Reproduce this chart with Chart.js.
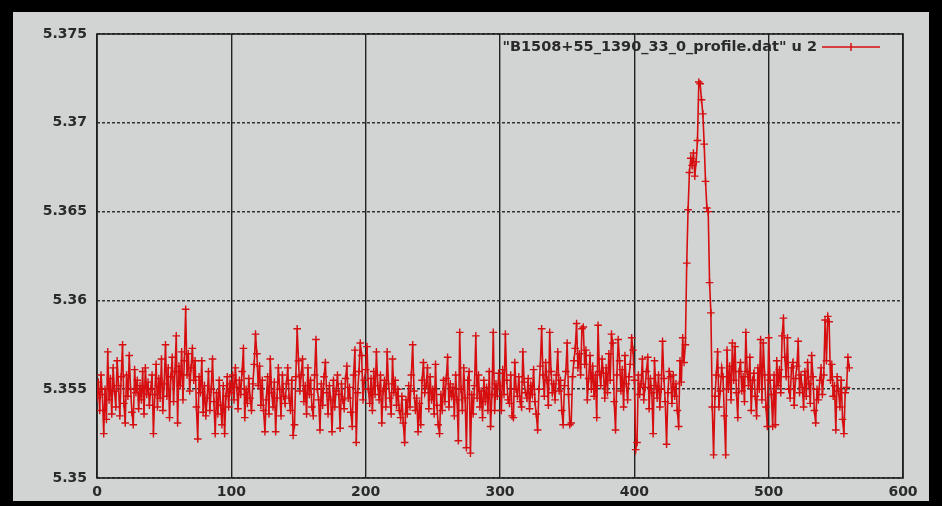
<!DOCTYPE html>
<html>
<head>
<meta charset="utf-8">
<script src="https://cdn.jsdelivr.net/npm/chart.js@4.4.1/dist/chart.umd.min.js"></script>
<style>
  html, body { margin: 0; padding: 0; background: #000; }
</style>
</head>
<body>
<canvas id="chart" width="942" height="506"></canvas>
<script>
const seriesLabel = '"B1508+55_1390_33_0_profile.dat" u 2'

// column 2 of the profile file, one value per bin (bin number = index)
const profile = [
  5.3545, 5.3554, 5.3538, 5.3558, 5.3547, 5.3525, 5.3550, 5.3533, 5.3571, 5.3544, 5.3556, 5.3536, 5.3562, 5.3549, 5.3540, 5.3566, 5.3552, 5.3535, 5.3557, 5.3575,
  5.3542, 5.3531, 5.3558, 5.3546, 5.3569, 5.3550, 5.3537, 5.3530, 5.3561, 5.3548, 5.3555, 5.3539, 5.3552, 5.3544, 5.3560, 5.3536, 5.3562, 5.3547, 5.3554, 5.3541,
  5.3550, 5.3558, 5.3525, 5.3547, 5.3564, 5.3540, 5.3556, 5.3545, 5.3567, 5.3538, 5.3553, 5.3575, 5.3546, 5.3562, 5.3534, 5.3557, 5.3568, 5.3543, 5.3560, 5.3580,
  5.3531, 5.3563, 5.3552, 5.3571, 5.3544, 5.3566, 5.3595, 5.3558, 5.3570, 5.3549, 5.3562, 5.3573, 5.3555, 5.3566, 5.3540, 5.3522, 5.3557, 5.3548, 5.3566, 5.3537,
  5.3552, 5.3535, 5.3545, 5.3560, 5.3538, 5.3550, 5.3567, 5.3543, 5.3525, 5.3548, 5.3536, 5.3555, 5.3541, 5.3530, 5.3552, 5.3525, 5.3546, 5.3557, 5.3540, 5.3553,
  5.3548, 5.3558, 5.3544, 5.3562, 5.3551, 5.3539, 5.3555, 5.3547, 5.3560, 5.3573, 5.3534, 5.3550, 5.3542, 5.3556, 5.3545, 5.3538, 5.3553, 5.3564, 5.3581, 5.3570,
  5.3552, 5.3563, 5.3541, 5.3555, 5.3538, 5.3526, 5.3544, 5.3557, 5.3536, 5.3567, 5.3548, 5.3540, 5.3554, 5.3526, 5.3545, 5.3562, 5.3550, 5.3535, 5.3558, 5.3546,
  5.3542, 5.3553, 5.3562, 5.3545, 5.3538, 5.3555, 5.3524, 5.3530, 5.3557, 5.3584, 5.3566, 5.3549, 5.3558, 5.3567, 5.3543, 5.3552, 5.3536, 5.3562, 5.3547, 5.3555,
  5.3540, 5.3535, 5.3558, 5.3578, 5.3550, 5.3544, 5.3527, 5.3553, 5.3541, 5.3557, 5.3565, 5.3548, 5.3536, 5.3552, 5.3544, 5.3526, 5.3555, 5.3540, 5.3549, 5.3558,
  5.3547, 5.3528, 5.3553, 5.3544, 5.3539, 5.3556, 5.3563, 5.3545, 5.3551, 5.3537, 5.3529, 5.3558, 5.3572, 5.3520, 5.3548, 5.3560, 5.3576, 5.3569, 5.3544, 5.3555,
  5.3561, 5.3574, 5.3550, 5.3542, 5.3556, 5.3538, 5.3560, 5.3547, 5.3571, 5.3552, 5.3544, 5.3558, 5.3531, 5.3549, 5.3555, 5.3540, 5.3571, 5.3553, 5.3545, 5.3536,
  5.3567, 5.3548, 5.3555, 5.3541, 5.3550, 5.3538, 5.3534, 5.3546, 5.3531, 5.3520, 5.3544, 5.3536, 5.3552, 5.3540, 5.3558, 5.3575, 5.3549, 5.3538, 5.3545, 5.3526,
  5.3542, 5.3530, 5.3555, 5.3565, 5.3548, 5.3552, 5.3562, 5.3539, 5.3557, 5.3544, 5.3550, 5.3536, 5.3564, 5.3541, 5.3530, 5.3525, 5.3547, 5.3538, 5.3555, 5.3543,
  5.3556, 5.3568, 5.3540, 5.3553, 5.3546, 5.3551, 5.3535, 5.3558, 5.3544, 5.3521, 5.3582, 5.3550, 5.3538, 5.3562, 5.3545, 5.3517, 5.3555, 5.3560, 5.3514, 5.3547,
  5.3536, 5.3552, 5.3580, 5.3545, 5.3558, 5.3540, 5.3549, 5.3534, 5.3555, 5.3543, 5.3551, 5.3538, 5.3560, 5.3529, 5.3547, 5.3582, 5.3538, 5.3553, 5.3546, 5.3559,
  5.3552, 5.3538, 5.3561, 5.3547, 5.3581, 5.3555, 5.3544, 5.3542, 5.3558, 5.3535, 5.3534, 5.3565, 5.3550, 5.3546, 5.3557, 5.3543, 5.3540, 5.3571, 5.3554, 5.3548,
  5.3545, 5.3556, 5.3539, 5.3552, 5.3547, 5.3561, 5.3543, 5.3536, 5.3527, 5.3550, 5.3563, 5.3584, 5.3558, 5.3546, 5.3565, 5.3555, 5.3541, 5.3582, 5.3560, 5.3548,
  5.3553, 5.3544, 5.3558, 5.3571, 5.3549, 5.3555, 5.3538, 5.3530, 5.3552, 5.3560, 5.3576, 5.3547, 5.3530, 5.3531, 5.3557, 5.3566, 5.3573, 5.3587, 5.3562, 5.3570,
  5.3558, 5.3584, 5.3585, 5.3564, 5.3572, 5.3544, 5.3556, 5.3569, 5.3550, 5.3563, 5.3546, 5.3558, 5.3534, 5.3586, 5.3560, 5.3552, 5.3567, 5.3559, 5.3545, 5.3562,
  5.3548, 5.3570, 5.3555, 5.3581, 5.3576, 5.3543, 5.3527, 5.3558, 5.3578, 5.3566, 5.3549, 5.3561, 5.3540, 5.3569, 5.3553, 5.3544, 5.3557, 5.3564, 5.3579, 5.3572,
  5.3555, 5.3516, 5.3520, 5.3558, 5.3547, 5.3553, 5.3567, 5.3544, 5.3551, 5.3560, 5.3568, 5.3539, 5.3556, 5.3548, 5.3525, 5.3566, 5.3552, 5.3545, 5.3558, 5.3540,
  5.3550, 5.3577, 5.3556, 5.3543, 5.3519, 5.3548, 5.3560, 5.3557, 5.3542, 5.3558, 5.3546, 5.3553, 5.3538, 5.3529, 5.3566, 5.3554, 5.3579, 5.3565, 5.3575, 5.3621,
  5.3651, 5.3672, 5.3680, 5.3676, 5.3683, 5.3670, 5.3678, 5.3690, 5.3723, 5.3722, 5.3713, 5.3705, 5.3688, 5.3667, 5.3652, 5.3650, 5.3610, 5.3593, 5.3540, 5.3513,
  5.3546, 5.3558, 5.3571, 5.3540, 5.3549, 5.3562, 5.3557, 5.3535, 5.3513, 5.3572, 5.3550, 5.3563, 5.3544, 5.3576, 5.3555, 5.3574, 5.3548, 5.3534, 5.3560, 5.3565,
  5.3549, 5.3557, 5.3543, 5.3582, 5.3560, 5.3552, 5.3568, 5.3538, 5.3555, 5.3559, 5.3546, 5.3535, 5.3562, 5.3550, 5.3578, 5.3544, 5.3576, 5.3558, 5.3540, 5.3529,
  5.3579, 5.3555, 5.3547, 5.3529, 5.3558, 5.3530, 5.3566, 5.3552, 5.3561, 5.3548, 5.3580, 5.3590, 5.3568, 5.3557, 5.3579, 5.3550, 5.3545, 5.3562, 5.3565, 5.3541,
  5.3556, 5.3563, 5.3577, 5.3548, 5.3558, 5.3551, 5.3540, 5.3560, 5.3546, 5.3565, 5.3553, 5.3542, 5.3569, 5.3557, 5.3538, 5.3531, 5.3550, 5.3544, 5.3555, 5.3562,
  5.3547, 5.3558, 5.3589, 5.3566, 5.3591, 5.3588, 5.3555, 5.3564, 5.3546, 5.3552, 5.3527, 5.3557, 5.3549, 5.3540, 5.3555, 5.3533, 5.3525, 5.3548, 5.3551, 5.3568, 5.3562
]

const xTicks = [0, 100, 200, 300, 400, 500, 600]
const yTicks = [5.35, 5.355, 5.36, 5.365, 5.37, 5.375]

const RED = 'rgb(214, 14, 16)'
const TEXT = '#2a2a2a'
const tickFont = { family: 'DejaVu Sans', size: 14, weight: 'bold' }

// black photo edge + grey gnuplot window
const backdrop = {
  id: 'backdrop',
  beforeDraw(chart) {
    const ctx = chart.ctx
    ctx.save()
    ctx.fillStyle = '#000'
    ctx.fillRect(0, 0, chart.width, chart.height)
    ctx.fillStyle = '#d2d4d4'
    ctx.fillRect(13, 12, 916, 489)
    ctx.restore()
  }
}

const frame = {
  id: 'frame',
  beforeDatasetsDraw(chart) {
    const { left, top, right, bottom } = chart.chartArea
    const ctx = chart.ctx
    ctx.save()
    ctx.strokeStyle = '#1e1e1e'
    ctx.lineWidth = 1.6
    ctx.strokeRect(left, top, right - left, bottom - top)
    ctx.restore()
  }
}

// gnuplot style key: text right-aligned, then line sample with marker
const key = {
  id: 'key',
  afterDraw(chart) {
    const ctx = chart.ctx
    const y = 47
    ctx.save()
    ctx.font = 'bold 14.5px "DejaVu Sans"'
    ctx.fillStyle = TEXT
    ctx.textAlign = 'right'
    ctx.textBaseline = 'middle'
    ctx.fillText(seriesLabel, 817, y)
    ctx.strokeStyle = RED
    ctx.lineWidth = 1.5
    ctx.beginPath()
    ctx.moveTo(822, y)
    ctx.lineTo(880, y)
    ctx.moveTo(851, y - 4)
    ctx.lineTo(851, y + 4)
    ctx.stroke()
    ctx.restore()
  }
}

new Chart(document.getElementById('chart'), {
  type: 'line',
  data: {
    datasets: [{
      label: seriesLabel,
      data: profile.map((v, i) => ({ x: i, y: v })),
      borderColor: RED,
      backgroundColor: RED,
      borderWidth: 1.6,
      pointStyle: 'cross',
      pointRadius: 3.8,
      pointBorderWidth: 1.4,
      pointBorderColor: RED,
      tension: 0,
      fill: false
    }]
  },
  options: {
    responsive: false,
    animation: false,
    devicePixelRatio: 1,
    layout: { padding: { left: 0, right: 39, top: 34, bottom: 0 } },
    plugins: {
      legend: { display: false },
      tooltip: { enabled: false }
    },
    scales: {
      x: {
        type: 'linear',
        min: 0,
        max: 600,
        afterBuildTicks: s => { s.ticks = xTicks.map(v => ({ value: v })) },
        afterFit: s => { s.height = 28 },
        grid: { color: '#222', lineWidth: 1.4, drawTicks: false },
        border: { display: false },
        ticks: { color: TEXT, font: tickFont, padding: 6, maxRotation: 0, callback: v => String(v) }
      },
      y: {
        min: 5.35,
        max: 5.375,
        afterBuildTicks: s => { s.ticks = yTicks.map(v => ({ value: v })) },
        afterFit: s => { s.width = 97 },
        grid: { color: '#333', lineWidth: 1.4, drawTicks: false },
        border: { display: false, dash: [3, 2] },
        ticks: { color: TEXT, font: tickFont, padding: 10, callback: v => String(v) }
      }
    }
  },
  plugins: [backdrop, frame, key]
})
</script>
</body>
</html>
